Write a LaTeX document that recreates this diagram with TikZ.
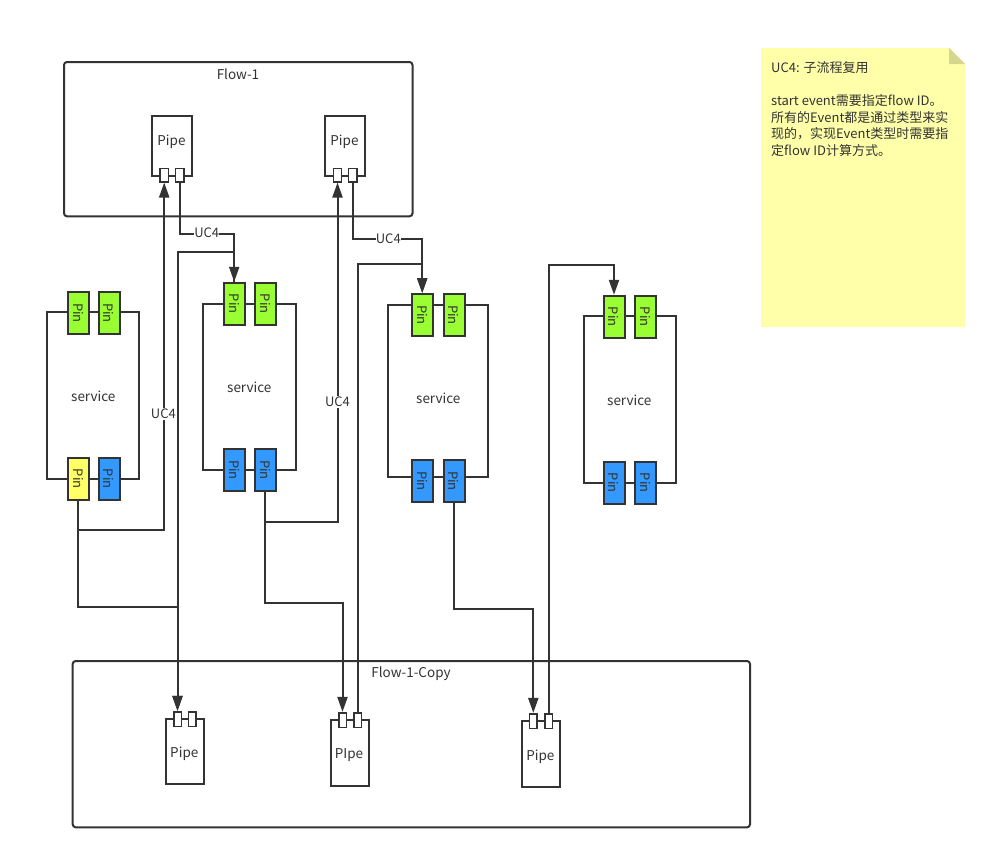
\documentclass[tikz,border=0pt]{standalone}
\usepackage{fontspec}
\usepackage{graphicx}
\setmainfont{Noto Sans CJK SC}
\usetikzlibrary{arrows.meta}
\definecolor{ln}{HTML}{333333}
\definecolor{pingreen}{HTML}{99FF33}
\definecolor{pinblue}{HTML}{3399FF}
\definecolor{pinyellow}{HTML}{FFFF66}
\definecolor{notebg}{HTML}{FFFFAA}
\definecolor{notefold}{HTML}{D6D68F}
\begin{document}
\begin{tikzpicture}[x=1pt,y=-1pt,
  every node/.style={font=\fontsize{13.5}{16}\selectfont, text=ln},
  frame/.style={draw=ln, line width=2pt, rounded corners=3pt, inner sep=0pt},
  svc/.style={draw=ln, line width=2pt, inner sep=0pt},
  pinbox/.style={draw=ln, line width=2pt, minimum width=21pt, minimum height=42pt, inner sep=0pt, font=\fontsize{13}{15}\selectfont},
  gpin/.style={pinbox, fill=pingreen},
  bpin/.style={pinbox, fill=pinblue},
  ypin/.style={pinbox, fill=pinyellow},
  pipebox/.style={draw=ln, line width=2pt, inner sep=0pt},
  port/.style={draw=ln, line width=1.6pt, fill=white, inner sep=0pt},
  arr/.style={draw=ln, line width=2pt, -{Triangle[length=15pt,width=10pt]}},
  lbl/.style={fill=white, inner xsep=0.3pt, inner ysep=1pt, font=\fontsize{13}{15}\selectfont},
  notetxt/.style={anchor=base west, inner sep=0pt, font=\fontsize{13}{15}\selectfont}
]
\useasboundingbox (0,0) rectangle (996,860);
\fill[white] (0,0) rectangle (996,860);

% note
\fill[notebg] (761,48) -- (949,48) -- (965,64) -- (965,327) -- (761,327) -- cycle;
\fill[notefold] (949,48) -- (965,64) -- (949,64) -- cycle;
\node[notetxt] (n1) at (771,72) {UC4: 子流程复用};
\node[notetxt] (n2) at (771,105.4) {start event需要指定flow ID。};
\node[notetxt] (n3) at (771,122) {所有的Event都是通过类型来实};
\node[notetxt] (n4) at (771,138.7) {现的，实现Event类型时需要指};
\node[notetxt] (n5) at (771,155.4) {定flow ID计算方式。};

% frames
\node[frame, minimum width=348.5pt, minimum height=154.3pt] (flow1) at (238.25,139.15) {};
\node (flow1t) at (238,74) {Flow-1};
\node[frame, minimum width=677.3pt, minimum height=166.3pt] (copy) at (411.35,744.15) {};
\node (copyt) at (411,673.3) {Flow-1-Copy};

% Flow-1 pipes
\node[pipebox, minimum width=40.6pt, minimum height=60pt] (fp1) at (172,145.7) {};
\node (fp1t) at (171.5,142) {Pipe};
\node[port, minimum width=8.3pt, minimum height=13.4pt] (fp1l) at (164.2,175) {};
\node[port, minimum width=8.3pt, minimum height=13.4pt] (fp1r) at (179.8,175) {};
\node[pipebox, minimum width=40.3pt, minimum height=60pt] (fp2) at (344.8,145.7) {};
\node (fp2t) at (344.5,142) {Pipe};
\node[port, minimum width=8.3pt, minimum height=13.4pt] (fp2l) at (337.5,175) {};
\node[port, minimum width=8.3pt, minimum height=13.4pt] (fp2r) at (352.8,175) {};

% copy pipes
\node[pipebox, minimum width=38.3pt, minimum height=65.3pt] (cp1) at (184.8,751.7) {};
\node (cp1t) at (184.3,754.3) {Pipe};
\node[port, minimum width=7.6pt, minimum height=14.6pt] (cp1l) at (177.5,719) {};
\node[port, minimum width=7.6pt, minimum height=14.6pt] (cp1r) at (192.3,719) {};
\node[pipebox, minimum width=38.3pt, minimum height=65.7pt] (cp2) at (349.8,752.8) {};
\node (cp2t) at (349,755.5) {PIpe};
\node[port, minimum width=7.6pt, minimum height=14.6pt] (cp2l) at (342.5,720) {};
\node[port, minimum width=7.6pt, minimum height=14.6pt] (cp2r) at (357.8,720) {};
\node[pipebox, minimum width=38.3pt, minimum height=65.7pt] (cp3) at (540.8,753.8) {};
\node (cp3t) at (540.3,757) {Pipe};
\node[port, minimum width=7.6pt, minimum height=14.6pt] (cp3l) at (533.3,721) {};
\node[port, minimum width=7.6pt, minimum height=14.6pt] (cp3r) at (548.5,721) {};

% services
\node[svc, minimum width=92pt, minimum height=167pt] (s1) at (93.3,395.2) {};
\node (s1t) at (93.3,396.7) {service};
\node[svc, minimum width=92.4pt, minimum height=166.3pt] (s2) at (249.5,387.15) {};
\node (s2t) at (249.3,387.3) {service};
\node[svc, minimum width=100pt, minimum height=172pt] (s3) at (437.7,391) {};
\node (s3t) at (438.3,398.7) {service};
\node[svc, minimum width=92pt, minimum height=166.7pt] (s4) at (629.7,399.35) {};
\node (s4t) at (629.3,400.7) {service};

% pins
\node[gpin] (s1t1) at (78.2,313) {\rotatebox{-90}{Pin}};
\node[gpin] (s1t2) at (109,313) {\rotatebox{-90}{Pin}};
\node[ypin] (s1b1) at (78.2,478.8) {\rotatebox{-90}{Pin}};
\node[bpin] (s1b2) at (109,478.8) {\rotatebox{-90}{Pin}};
\node[gpin] (s2t1) at (234.2,303.8) {\rotatebox{-90}{Pin}};
\node[gpin] (s2t2) at (265.2,303.8) {\rotatebox{-90}{Pin}};
\node[bpin] (s2b1) at (234.2,470) {\rotatebox{-90}{Pin}};
\node[bpin] (s2b2) at (265.2,470) {\rotatebox{-90}{Pin}};
\node[gpin] (s3t1) at (422.2,315) {\rotatebox{-90}{Pin}};
\node[gpin] (s3t2) at (454,315) {\rotatebox{-90}{Pin}};
\node[bpin] (s3b1) at (422.2,481) {\rotatebox{-90}{Pin}};
\node[bpin] (s3b2) at (454,481) {\rotatebox{-90}{Pin}};
\node[gpin] (s4t1) at (614,316.8) {\rotatebox{-90}{Pin}};
\node[gpin] (s4t2) at (645.3,316.8) {\rotatebox{-90}{Pin}};
\node[bpin] (s4b1) at (614,482.8) {\rotatebox{-90}{Pin}};
\node[bpin] (s4b2) at (645.3,482.8) {\rotatebox{-90}{Pin}};

% connectors
\draw[arr] (s1b1.south) -- ++(0,29) -| (fp1l.south);
\draw[arr] (s1b1.south) -- ++(0,106) -| (cp1l.north);
\draw[arr] (fp1r.south) -- ++(0,51) -| (s2t1.north);
\draw[arr] (s2t1.north) -- ++(0,-30.1) -| (cp1l.north);
\draw[arr] (s2b2.south) -- ++(0,29.7) -| (fp2l.south);
\draw[arr] (s2b2.south) -- ++(0,110.7) -| (cp2l.north);
\draw[arr] (fp2r.south) -- ++(0,56.6) -| (s3t1.north);
\draw[arr] (cp2r.north) -- ++(0,-448.4) -| (s3t1.north);
\draw[arr] (s3b2.south) -- ++(0,105.7) -| (cp3l.north);
\draw[arr] (cp3r.north) -- ++(0,-447.7) -| (s4t1.north);

% labels
\node[lbl] (uc1) at (163.4,414) {UC4};
\node[lbl] (uc2) at (206.7,232.7) {UC4};
\node[lbl] (uc3) at (337.5,402) {UC4};
\node[lbl] (uc4) at (388.3,238.3) {UC4};
\end{tikzpicture}
\end{document}
